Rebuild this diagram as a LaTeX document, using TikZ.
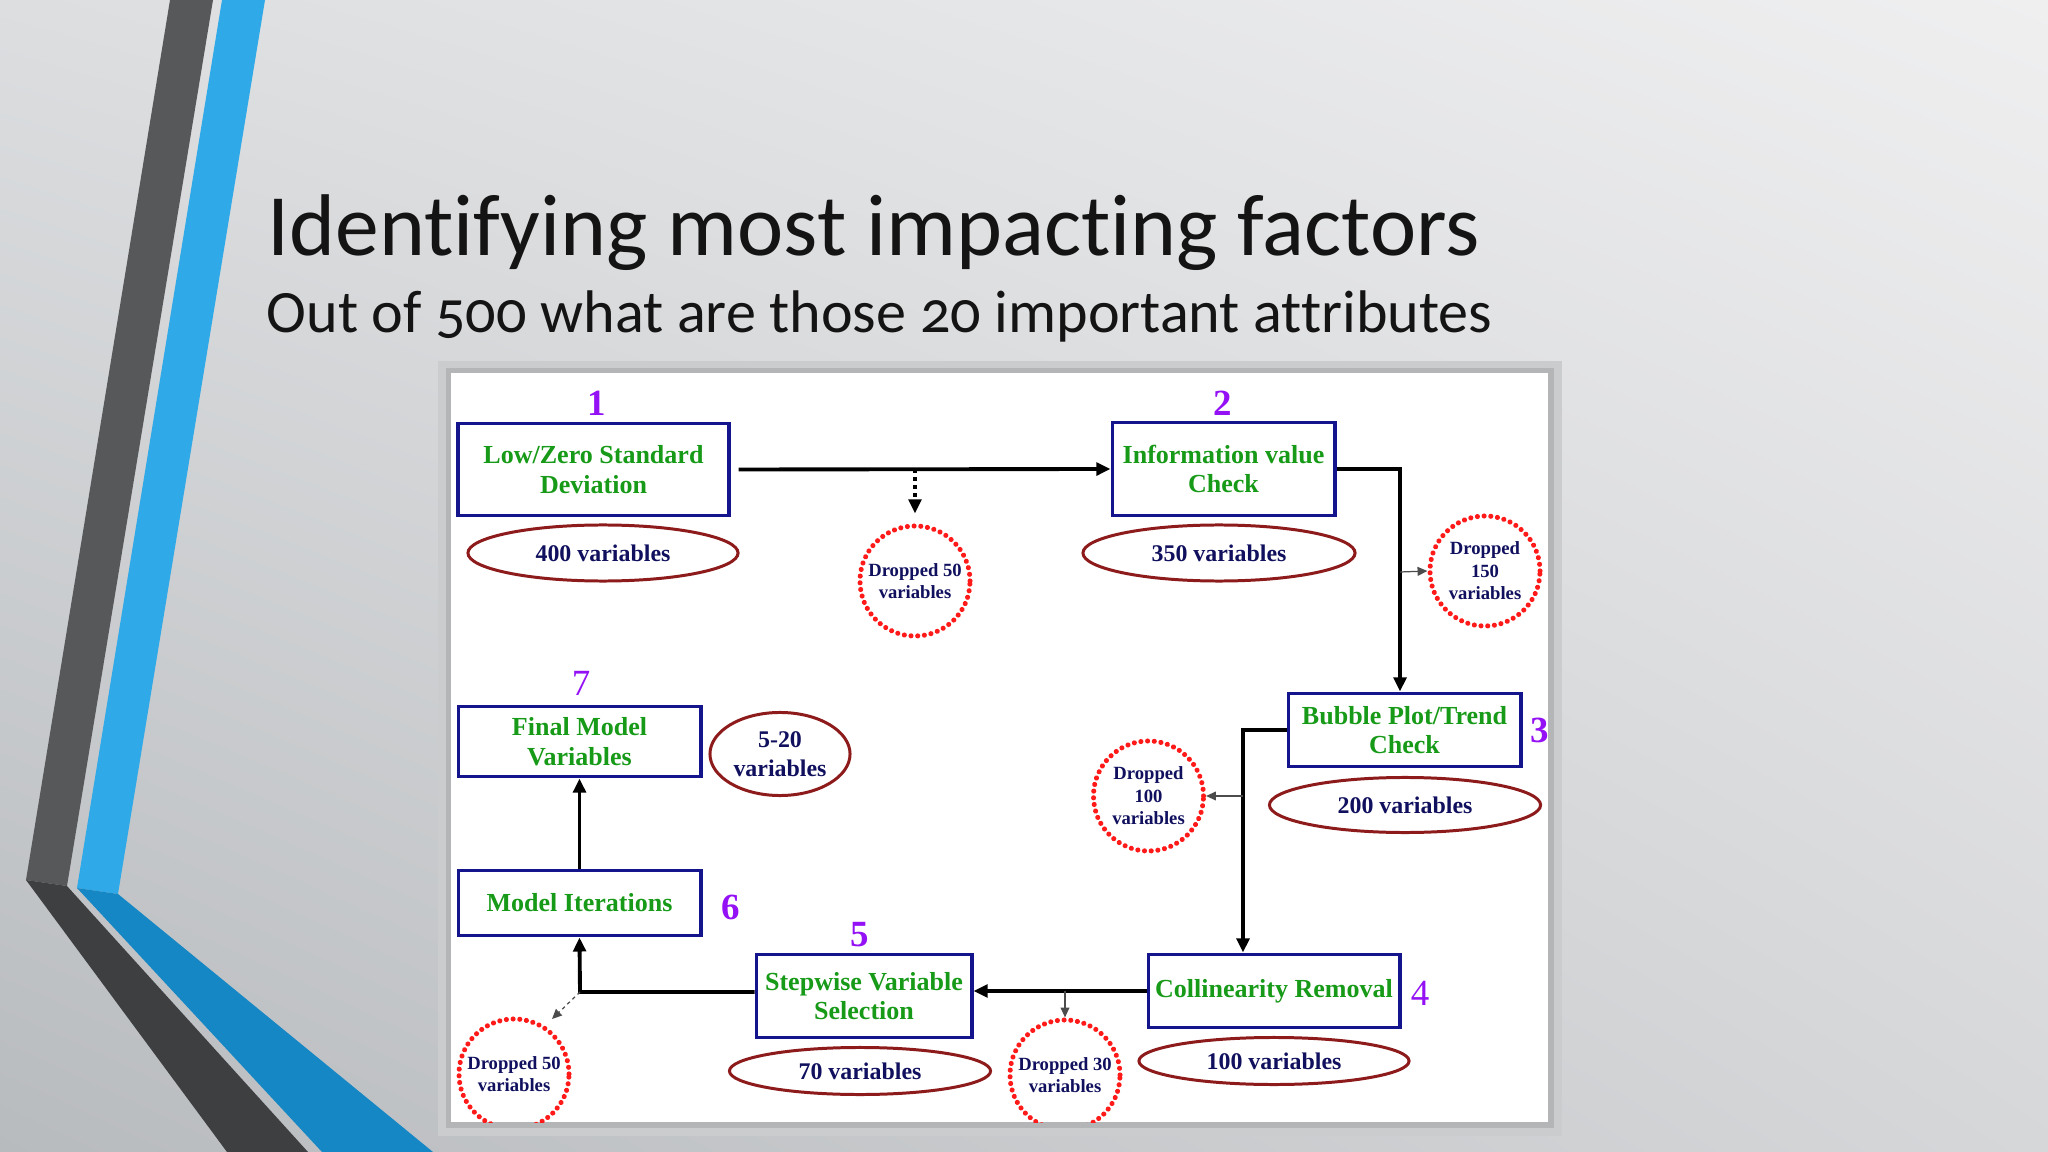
\documentclass[tikz,border=0pt]{standalone}
\usepackage{fontspec}
\usetikzlibrary{arrows.meta,shapes.geometric,calc,shadings}
\newfontfamily\titlefont[Ligatures={NoCommon,NoDiscretionary}]{Carlito}
\newfontfamily\subfont[Numbers=OldStyle,Ligatures={NoCommon,NoDiscretionary}]{Carlito}
\newfontfamily\diafont{Liberation Serif}
\definecolor{bgUL}{HTML}{DCDEE0}
\definecolor{bgUR}{HTML}{EFEFF0}
\definecolor{bgLL}{HTML}{B8BBBE}
\definecolor{bgLR}{HTML}{D6D7D9}
\definecolor{darkA}{HTML}{57585A}
\definecolor{darkB}{HTML}{3E3F41}
\definecolor{blueA}{HTML}{2FA9E7}
\definecolor{blueB}{HTML}{1687C5}
\definecolor{frameOuter}{HTML}{CBCCCE}
\definecolor{frameInner}{HTML}{B4B5B7}
\definecolor{boxblue}{HTML}{14148C}
\definecolor{boxgreen}{HTML}{179A17}
\definecolor{ellred}{HTML}{8E1B1B}
\definecolor{ellnavy}{HTML}{10105E}
\definecolor{dotred}{HTML}{FF1A1A}
\definecolor{numpurple}{HTML}{9410F5}
\tikzset{
  stepbox/.style={draw=boxblue, line width=1.1pt, fill=white, text=boxgreen,
    font=\diafont\bfseries\fontsize{7.4}{8.4}\selectfont, align=center, inner sep=0pt},
  varell/.style={ellipse, draw=ellred, line width=0.85pt, text=ellnavy,
    font=\diafont\bfseries\fontsize{6.8}{8.4}\selectfont, align=center, inner sep=0pt},
  dropc/.style={circle, draw=dotred, line width=1.45pt, dash pattern=on 0.01pt off 1.9pt,
    line cap=round, minimum size=1.10cm, inner sep=0pt, text=ellnavy, align=center,
    font=\diafont\bfseries\fontsize{5.3}{6.4}\selectfont},
  numlab/.style={text=numpurple, inner sep=0pt, font=\diafont\bfseries\fontsize{10.5}{12}\selectfont},
  numlabreg/.style={text=numpurple, inner sep=0pt, font=\diafont\fontsize{10.5}{12}\selectfont},
  mainarrow/.style={draw=black, line width=1.1pt, -{Triangle[length=4pt,width=3.6pt]}},
  dasharrow/.style={draw=black, line width=1.1pt, dash pattern=on 1.2pt off 1.1pt, -{Triangle[length=4pt,width=3.6pt]}},
  thinarrow/.style={draw=black!70, line width=0.35pt, -{Triangle[length=2.8pt,width=2.5pt]}},
}
\begin{document}
\begin{tikzpicture}[x=0.01cm,y=-0.01cm]
\useasboundingbox (0,0) rectangle (2048,1152);
\shade[upper left=bgUL, upper right=bgUR, lower left=bgLL, lower right=bgLR] (0,0) rectangle (2048,1152);
% decorative stripes
\fill[darkA] (170,0) -- (213,0) -- (67,886) -- (26,880) -- cycle;
\fill[darkB] (26,880) -- (67,886) -- (308,1152) -- (227,1152) -- cycle;
\fill[blueA] (222,0) -- (265,0) -- (118,894) -- (77,888) -- cycle;
\fill[blueB] (77,888) -- (118,894) -- (433,1152) -- (322,1152) -- cycle;
% title
\node[anchor=base west, inner sep=0pt, text=black!92, font=\titlefont\fontsize{24.9}{30}\selectfont] (title) at (267,256) {Identifying most impacting factors};
\node[anchor=base west, inner sep=0pt, text=black!92, font=\subfont\fontsize{17.1}{20}\selectfont] (subtitle) at (266,333) {Out of 500 what are those 20 important attributes};
% panel
\fill[frameOuter] (438,361) rectangle (1562,1136);
\fill[frameInner] (446,368) rectangle (1554,1128);
\fill[white] (451,373) rectangle (1548,1122);
\begin{scope}
\clip (451,373) rectangle (1548,1122);
% boxes
\node[stepbox, minimum width=2.70cm, minimum height=0.92cm] (b1) at (593.5,469.5) {Low/Zero Standard\\Deviation};
\node[stepbox, minimum width=2.22cm, minimum height=0.93cm] (b2) at (1223.5,469) {Information value\\Check};
\node[stepbox, minimum width=2.32cm, minimum height=0.73cm] (b3) at (1404.5,730) {Bubble Plot/Trend\\Check};
\node[stepbox, minimum width=2.51cm, minimum height=0.73cm] (b4) at (1274,991) {Collinearity Removal};
\node[stepbox, minimum width=2.15cm, minimum height=0.83cm] (b5) at (864,996) {Stepwise Variable\\Selection};
\node[stepbox, minimum width=2.42cm, minimum height=0.65cm] (b6) at (579.5,903) {Model Iterations};
\node[stepbox, minimum width=2.42cm, minimum height=0.70cm] (b7) at (579.5,741.5) {Final Model\\Variables};
% ellipses
\node[varell, minimum width=2.70cm, minimum height=0.56cm] (e1) at (603,553) {400 variables};
\node[varell, minimum width=2.72cm, minimum height=0.56cm] (e2) at (1219,553) {350 variables};
\node[varell, minimum width=2.71cm, minimum height=0.55cm] (e3) at (1405,805) {200 variables};
\node[varell, minimum width=2.70cm, minimum height=0.47cm] (e4) at (1274,1061) {100 variables};
\node[varell, minimum width=2.61cm, minimum height=0.47cm] (e5) at (860,1071) {70 variables};
\node[varell, minimum width=1.40cm, minimum height=0.83cm] (e6) at (780,754) {5-20\\variables};
% dropped circles
\node[dropc] (d1) at (915,581) {Dropped 50\\variables};
\node[dropc] (d2) at (1485,571) {Dropped\\150\\variables};
\node[dropc] (d3) at (1148.5,796) {Dropped\\100\\variables};
\node[dropc] (d4) at (1065,1075) {Dropped 30\\variables};
\node[dropc] (d5) at (514,1074) {Dropped 50\\variables};
% step numbers
\node[numlab] (n1) at (597,403) {1};
\node[numlab] (n2) at (1223,403) {2};
\node[numlab] (n3) at (1540,730) {3};
\node[numlabreg] (n4) at (1420,993) {4};
\node[numlab] (n5) at (860,935) {5};
\node[numlab] (n6) at (731,907) {6};
\node[numlabreg] (n7) at (581,683) {7};
% connectors
\coordinate (j1) at (915,469);
\coordinate (j2) at (1400,469);
\coordinate (j2b) at (1400,572);
\coordinate (j3) at (1243,730);
\coordinate (j3b) at (1243,796);
\coordinate (j4) at (1065,991);
\coordinate (j5) at (580,992);
\coordinate (j5b) at (552,1019);
\draw[mainarrow, shorten <=0.08cm] (b1.east) -- (b2.west);
\draw[dasharrow, shorten >=0.1cm] (j1) -- (d1.north);
\draw[mainarrow] (b2.east) -- (j2) -- (j2 |- b3.north);
\draw[thinarrow] (j2b) -- (d2.west);
\draw[mainarrow] (b3.west) -- (j3) -- (j3 |- b4.north);
\draw[thinarrow] (j3b) -- (d3.east);
\draw[mainarrow] (b4.west) -- (b4.west -| b5.east);
\draw[thinarrow] (j4) -- (d4.north);
\draw[mainarrow] (j5 -| b5.west) -- (j5) -- (b6.south);
\draw[thinarrow, dash pattern=on 1pt off 1pt] (j5) -- (j5b);
\draw[mainarrow] (b6.north) -- (b7.south);
\end{scope}
\end{tikzpicture}
\end{document}
